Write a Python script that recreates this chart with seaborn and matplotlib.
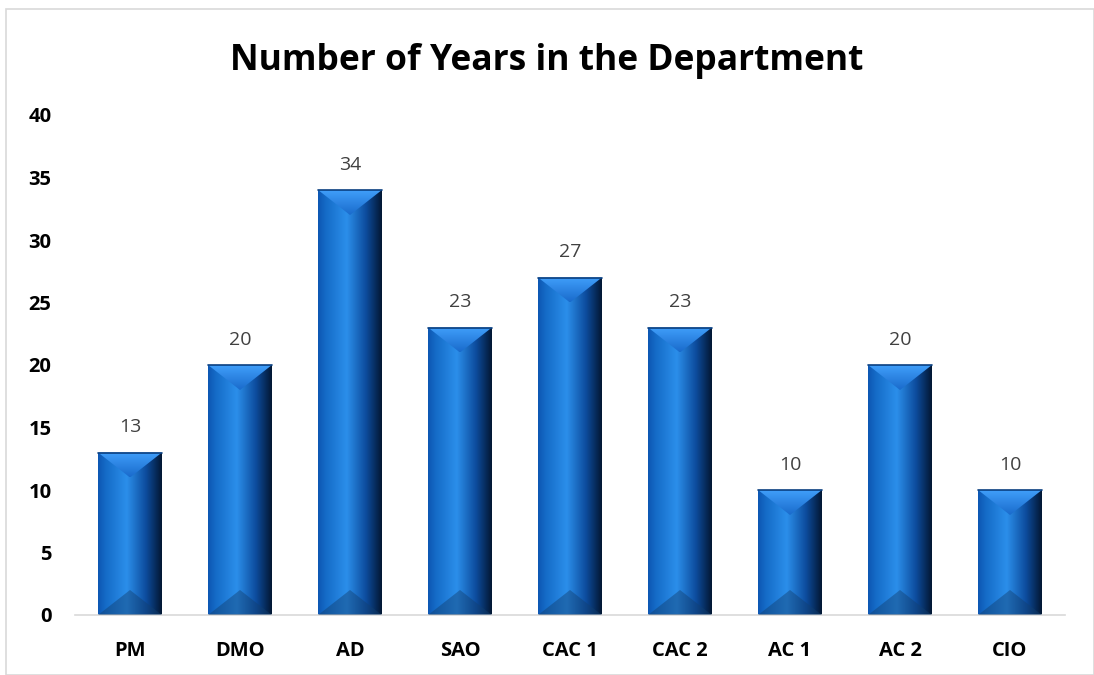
import matplotlib
matplotlib.use('Agg')
import matplotlib.pyplot as plt
import numpy as np
import pandas as pd
import seaborn as sns
from matplotlib.patches import Polygon, Rectangle

roles = ['PM', 'DMO', 'AD', 'SAO', 'CAC 1', 'CAC 2', 'AC 1', 'AC 2', 'CIO']
years = [13, 20, 34, 23, 27, 23, 10, 20, 10]

df = pd.DataFrame({'role': roles, 'years': years})

sns.set_theme(style='white')
plt.rcParams['font.family'] = ['Open Sans', 'DejaVu Sans']

fig = plt.figure(figsize=(10.94, 6.75), dpi=100)
ax = fig.add_axes([75 / 1094, 60 / 675, 990 / 1094, 500 / 675])

sns.barplot(data=df, x='role', y='years', color='#1565c0', width=0.58, ax=ax, zorder=2)

# horizontal shading across each bar
stops = [0.0, 0.12, 0.45, 0.75, 1.0]
cols = np.array([[0.05, 0.34, 0.70], [0.08, 0.42, 0.78], [0.17, 0.56, 0.92],
                 [0.05, 0.30, 0.62], [0.01, 0.09, 0.20]])
xs = np.linspace(0, 1, 200)
grad = np.stack([np.interp(xs, stops, cols[:, i]) for i in range(3)], axis=-1)[None, :, :]

cap = 2.0
for p, v in zip(ax.patches, years):
    x0, w = p.get_x(), p.get_width()
    p.set_facecolor('none')
    p.set_edgecolor('none')
    im = ax.imshow(grad, extent=[x0, x0 + w, 0, v], aspect='auto', zorder=2, interpolation='bilinear')
    im.set_clip_path(p)
    # top cap
    top = Polygon([[x0, v], [x0 + w, v], [x0 + w / 2, v - cap]], closed=True,
                  facecolor='none', edgecolor='none', zorder=3)
    ax.add_patch(top)
    vg = np.linspace(0, 1, 50)
    tc = np.stack([np.interp(vg, [0, 1], [0.10, 0.25]),
                   np.interp(vg, [0, 1], [0.42, 0.62]),
                   np.interp(vg, [0, 1], [0.80, 0.98])], axis=-1)[:, None, :]
    im2 = ax.imshow(tc, extent=[x0, x0 + w, v, v - cap], aspect='auto', zorder=3)
    im2.set_clip_path(top)
    ax.plot([x0, x0 + w], [v, v], color='#0a3f80', lw=1.2, zorder=4)
    # bottom cap
    bot = Polygon([[x0, 0], [x0 + w, 0], [x0 + w / 2, cap]], closed=True,
                  facecolor='#123f70', edgecolor='none', alpha=0.45, zorder=3)
    ax.add_patch(bot)
    ax.text(x0 + w / 2, v + 1.3, str(v), ha='center', va='bottom', fontsize=14, color='#404040')

ax.set_xlim(-0.5, len(roles) - 0.5)
ax.set_ylim(0, 40)
ax.set_yticks(range(0, 41, 5))
ax.set_xlabel('')
ax.set_ylabel('')
for s in ['top', 'right', 'left']:
    ax.spines[s].set_visible(False)
ax.spines['bottom'].set_color('#d9d9d9')
ax.spines['bottom'].set_linewidth(1.2)
ax.tick_params(axis='both', length=0, labelsize=14.5, colors='black')
ax.tick_params(axis='y', pad=17)
ax.tick_params(axis='x', pad=19)
for lbl in ax.get_xticklabels() + ax.get_yticklabels():
    lbl.set_fontweight('bold')

fig.text(0.5, 0.91, 'Number of Years in the Department', ha='center', va='center',
         fontsize=25.5, fontweight='bold', color='black')

fig.patches.append(Rectangle((6 / 1094, 0), 1 - 6 / 1094, 1 - 9 / 675, transform=fig.transFigure,
                             fill=False, edgecolor='#d9d9d9', lw=1.2))

fig.savefig('out.png', dpi=100)
